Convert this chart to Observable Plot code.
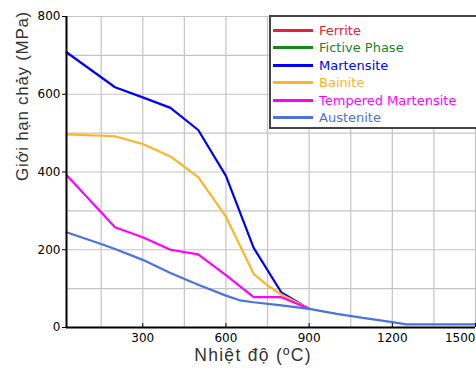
<!DOCTYPE html>
<html><head><meta charset="utf-8">
<script src="https://cdn.jsdelivr.net/npm/d3@7"></script>
<script src="https://cdn.jsdelivr.net/npm/@observablehq/plot@0.6"></script>
<style>
body{margin:0;background:#fff;font-family:"DejaVu Sans",Verdana,sans-serif;}
#wrap{position:relative;width:476px;height:370px;}
#legend{position:absolute;left:269px;top:15px;width:205px;height:110px;border:2px solid #444;border-right:none;background:#fff;box-sizing:content-box;}
.row{position:absolute;left:2px;height:16px;display:flex;align-items:center;font-size:13px;}
.sw{width:40px;height:3px;margin-right:6px;flex:none;}
.lt{white-space:nowrap;}
</style></head>
<body><div id="wrap"><div id="chart"></div><div id="legend"></div></div>
<script>
const seriesNames = ["Ferrite", "Fictive Phase", "Martensite", "Bainite", "Tempered Martensite", "Austenite"];

const ferriteTemp = [];
const ferriteYield = [];
const fictiveTemp = [];
const fictiveYield = [];
const martensiteTemp = [25, 200, 300, 400, 500, 600, 700, 800, 900];
const martensiteYield = [708, 618, 592, 565, 508, 390, 205, 90, 48];
const bainiteTemp = [25, 200, 300, 400, 500, 600, 700, 750, 800, 900];
const bainiteYield = [497, 492, 472, 440, 387, 285, 138, 108, 85, 48];
const temperedTemp = [25, 200, 300, 400, 500, 600, 700, 800, 900];
const temperedYield = [392, 258, 232, 200, 188, 135, 78, 78, 48];
const austeniteTemp = [25, 150, 200, 300, 400, 500, 600, 650, 700, 800, 900, 1000, 1100, 1200, 1250, 1500];
const austeniteYield = [245, 215, 202, 174, 140, 110, 82, 70, 65, 57, 48, 35, 24, 14, 8, 8];

const xTicks = [300, 600, 900, 1200, 1500];
const yTicks = [0, 200, 400, 600, 800];
const xLabel = "Nhiệt độ (ºC)";
const yLabel = "Giới hạn chảy (MPa)";

const colors = ["#e8203a", "#16871a", "#0000ff", "#ffb428", "#ff00ff", "#4a72e0"];

const temps = [ferriteTemp, fictiveTemp, martensiteTemp, bainiteTemp, temperedTemp, austeniteTemp];
const yields = [ferriteYield, fictiveYield, martensiteYield, bainiteYield, temperedYield, austeniteYield];
const rows = [];
seriesNames.forEach((s, i) => temps[i].forEach((t, j) => rows.push({series: s, temp: t, y: yields[i][j]})));

const font = '"DejaVu Sans",Verdana,sans-serif';
const titleFont = '"Liberation Sans",Arial,sans-serif';
const fmt = d => String(d);
const chart = Plot.plot({
  width: 476, height: 370,
  marginLeft: 66, marginTop: 16, marginBottom: 43, marginRight: 1,
  style: {fontFamily: font, fontSize: "12px", color: "#000", background: "#fff"},
  x: {domain: [25, 1500]},
  y: {domain: [0, 800]},
  color: {domain: seriesNames, range: colors},
  marks: [
    Plot.gridX(d3.range(150, 1501, 150), {stroke: "#c4c4c4", strokeOpacity: 1, strokeWidth: 1.2}),
    Plot.gridY(d3.range(100, 801, 100), {stroke: "#c4c4c4", strokeOpacity: 1, strokeWidth: 1.2}),
    Plot.line(rows, {x: "temp", y: "y", z: "series", stroke: "series", strokeWidth: 2.2, curve: "linear"}),
    Plot.axisX(xTicks.slice(0, 4), {tickSize: -4, tickPadding: 10, label: null, fontSize: 12, tickFormat: fmt}),
    Plot.axisX(xTicks.slice(4), {tickSize: -4, tickPadding: 10, label: null, fontSize: 12, textAnchor: "end", tickFormat: fmt}),
    Plot.axisY(yTicks, {tickSize: 4, tickPadding: 2, label: null, fontSize: 12, tickFormat: fmt}),
    Plot.ruleX([25], {stroke: "#000", strokeWidth: 2}),
    Plot.ruleY([0], {stroke: "#000", strokeWidth: 2}),
    Plot.text([yLabel], {frameAnchor: "left", dx: -44, dy: 9, rotate: -90, fontSize: 17, fontFamily: titleFont, fill: "#333"}),
    Plot.text([xLabel], {frameAnchor: "bottom", dx: -18, dy: 33, fontSize: 17.5, fontFamily: titleFont, fill: "#333"})
  ]
});
d3.select(chart).selectAll("text").each(function() {
  if (this.textContent === xLabel) this.setAttribute("letter-spacing", "1.3");
  if (this.textContent === yLabel) this.setAttribute("letter-spacing", "0.7");
});
document.getElementById("chart").appendChild(chart);

const leg = document.getElementById("legend");
seriesNames.forEach((s, i) => {
  const r = document.createElement("div");
  r.className = "row";
  r.style.top = (5 + i * 17.5) + "px";
  r.innerHTML = `<span class="sw" style="background:${colors[i]}"></span><span class="lt" style="color:${colors[i]}">${s}</span>`;
  leg.appendChild(r);
});
</script></body></html>
